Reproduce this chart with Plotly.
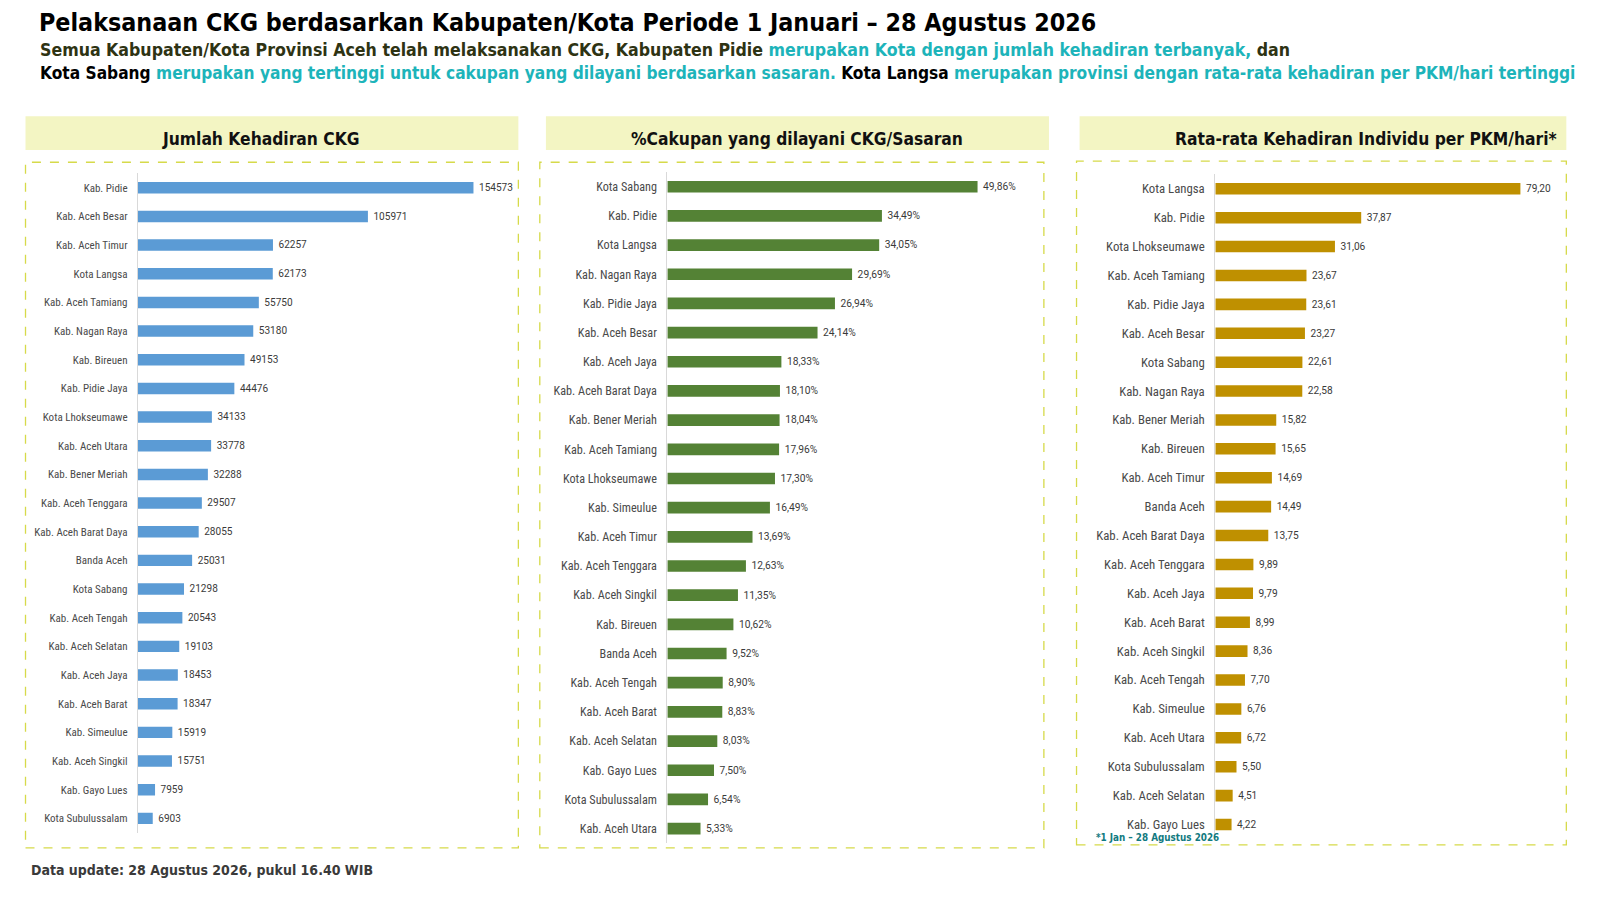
import plotly.graph_objects as go

# Panel 1: Jumlah Kehadiran CKG
kab_hadir = ['Kab. Pidie', 'Kab. Aceh Besar', 'Kab. Aceh Timur', 'Kota Langsa',
             'Kab. Aceh Tamiang', 'Kab. Nagan Raya', 'Kab. Bireuen', 'Kab. Pidie Jaya',
             'Kota Lhokseumawe', 'Kab. Aceh Utara', 'Kab. Bener Meriah',
             'Kab. Aceh Tenggara', 'Kab. Aceh Barat Daya', 'Banda Aceh', 'Kota Sabang',
             'Kab. Aceh Tengah', 'Kab. Aceh Selatan', 'Kab. Aceh Jaya', 'Kab. Aceh Barat',
             'Kab. Simeulue', 'Kab. Aceh Singkil', 'Kab. Gayo Lues', 'Kota Subulussalam']
jml_hadir = [154573, 105971, 62257, 62173, 55750, 53180, 49153, 44476, 34133, 33778,
             32288, 29507, 28055, 25031, 21298, 20543, 19103, 18453, 18347, 15919,
             15751, 7959, 6903]

# Panel 2: %Cakupan yang dilayani CKG/Sasaran
kab_cakupan = ['Kota Sabang', 'Kab. Pidie', 'Kota Langsa', 'Kab. Nagan Raya',
               'Kab. Pidie Jaya', 'Kab. Aceh Besar', 'Kab. Aceh Jaya',
               'Kab. Aceh Barat Daya', 'Kab. Bener Meriah', 'Kab. Aceh Tamiang',
               'Kota Lhokseumawe', 'Kab. Simeulue', 'Kab. Aceh Timur',
               'Kab. Aceh Tenggara', 'Kab. Aceh Singkil', 'Kab. Bireuen', 'Banda Aceh',
               'Kab. Aceh Tengah', 'Kab. Aceh Barat', 'Kab. Aceh Selatan',
               'Kab. Gayo Lues', 'Kota Subulussalam', 'Kab. Aceh Utara']
pct_cakupan = [49.86, 34.49, 34.05, 29.69, 26.94, 24.14, 18.33, 18.10, 18.04, 17.96,
               17.30, 16.49, 13.69, 12.63, 11.35, 10.62, 9.52, 8.90, 8.83, 8.03,
               7.50, 6.54, 5.33]

# Panel 3: Rata-rata Kehadiran Individu per PKM/hari
kab_rerata = ['Kota Langsa', 'Kab. Pidie', 'Kota Lhokseumawe', 'Kab. Aceh Tamiang',
              'Kab. Pidie Jaya', 'Kab. Aceh Besar', 'Kota Sabang', 'Kab. Nagan Raya',
              'Kab. Bener Meriah', 'Kab. Bireuen', 'Kab. Aceh Timur', 'Banda Aceh',
              'Kab. Aceh Barat Daya', 'Kab. Aceh Tenggara', 'Kab. Aceh Jaya',
              'Kab. Aceh Barat', 'Kab. Aceh Singkil', 'Kab. Aceh Tengah',
              'Kab. Simeulue', 'Kab. Aceh Utara', 'Kota Subulussalam',
              'Kab. Aceh Selatan', 'Kab. Gayo Lues']
rerata_pkm = [79.20, 37.87, 31.06, 23.67, 23.61, 23.27, 22.61, 22.58, 15.82, 15.65,
              14.69, 14.49, 13.75, 9.89, 9.79, 8.99, 8.36, 7.70, 6.76, 6.72, 5.50,
              4.51, 4.22]

W, H = 1600, 900
HEAD_FONT = 'DejaVu Sans Condensed, DejaVu Sans, sans-serif'
NARROW_FONT = 'Liberation Sans Narrow, Roboto Condensed, Liberation Sans, sans-serif'
LABEL_FONT = 'Roboto, Liberation Sans, sans-serif'
TEAL = '#1db4ba'
OLIVE = '#2e3313'


def _p(d):
    return d / 0.98 - 8


def px_x(x):
    return _p(x) / W


def px_y(y):
    return 1 - _p(y) / H


def _fmt(v, suffix=''):
    return f'{v:.2f}'.replace('.', ',') + suffix


fig = go.Figure()

panels = [
    # names, values, texts, color, bar start, bar end of max, right edge, first row, last row, tick size
    (kab_hadir, jml_hadir, [str(v) for v in jml_hadir], '#5b9bd5', 135, 464, 500, 184, 802, 11),
    (kab_cakupan, pct_cakupan, [_fmt(v, '%') for v in pct_cakupan], '#548235', 654, 958, 1015, 183, 812, 12.2),
    (kab_rerata, rerata_pkm, [_fmt(v) for v in rerata_pkm], '#bf9000', 1191, 1490, 1530, 185, 808, 12.8),
]

for i, (names, vals, texts, color, x0, xm, x1, r0, r1, tsize) in enumerate(panels):
    n = '' if i == 0 else str(i + 1)
    step = (r1 - r0) / (len(names) - 1)
    xmax = max(vals) * (x1 - x0) / (xm - x0)
    fig.add_trace(go.Bar(y=names, x=vals, orientation='h', text=texts,
                         texttemplate=' %{text}', textposition='outside',
                         cliponaxis=False,
                         textfont=dict(size=12.3, color='#3a3a3a', family=LABEL_FONT),
                         marker=dict(color=color, line=dict(width=0)),
                         xaxis='x' + n, yaxis='y' + n, showlegend=False,
                         hoverinfo='x+y'))
    fig.update_layout(**{
        'xaxis' + n: dict(domain=[px_x(x0), px_x(x1)], range=[0, xmax],
                          visible=False, fixedrange=True),
        'yaxis' + n: dict(domain=[px_y(r1 + step / 2), px_y(r0 - step / 2)],
                          anchor='x' + n, categoryorder='array', categoryarray=names,
                          autorange='reversed', showline=True, linecolor='#d9d9d9',
                          linewidth=1, ticks='', ticklabelstandoff=7,
                          tickfont=dict(size=tsize, color='#4a4a4a', family=NARROW_FONT),
                          showgrid=False, fixedrange=True),
    })

# header bands and dashed frames
headers = [
    ('Jumlah Kehadiran CKG', 25, 508, 256, 25, 508, 159, 831),
    ('%Cakupan yang dilayani CKG/Sasaran', 535, 1028, 781, 529, 1023, 159, 831),
    ('Rata-rata Kehadiran Individu per PKM/hari*', 1058, 1535, 1339, 1055, 1535, 158, 828),
]
shapes = []
annotations = []
for label, hx0, hx1, hcx, bx0, bx1, by0, by1 in headers:
    shapes.append(dict(type='rect', xref='paper', yref='paper', layer='below',
                       x0=px_x(hx0), x1=px_x(hx1), y0=px_y(147), y1=px_y(114),
                       fillcolor='#f3f5c3', line=dict(width=0)))
    shapes.append(dict(type='rect', xref='paper', yref='paper', layer='below',
                       x0=px_x(bx0), x1=px_x(bx1), y0=px_y(by1), y1=px_y(by0),
                       fillcolor='rgba(0,0,0,0)',
                       line=dict(color='#d6da4a', width=1.3, dash='dash')))
    annotations.append(dict(text=f'<b>{label}</b>', xref='paper', yref='paper',
                            x=px_x(hcx), y=px_y(136), xanchor='center', yanchor='middle',
                            showarrow=False,
                            font=dict(size=17.3, color='#111111', family=HEAD_FONT)))

# title and subtitle
annotations.append(dict(
    text='<b>Pelaksanaan CKG berdasarkan Kabupaten/Kota Periode 1 Januari \u2013 28 Agustus 2026</b>',
    xref='paper', yref='paper', x=px_x(36), y=px_y(22), xanchor='left', yanchor='middle',
    showarrow=False, font=dict(size=24.8, color='#000000', family=HEAD_FONT)))
annotations.append(dict(
    text=(f'<b><span style="color:{OLIVE}">Semua Kabupaten/Kota Provinsi Aceh telah melaksanakan CKG, '
          f'Kabupaten Pidie </span><span style="color:{TEAL}">merupakan Kota dengan jumlah kehadiran '
          f'terbanyak, </span><span style="color:{OLIVE}">dan</span></b>'),
    xref='paper', yref='paper', x=px_x(37), y=px_y(49), xanchor='left', yanchor='middle',
    showarrow=False, font=dict(size=17.6, family=HEAD_FONT)))
annotations.append(dict(
    text=(f'<b><span style="color:#000000">Kota Sabang </span><span style="color:{TEAL}">merupakan '
          f'yang tertinggi untuk cakupan yang dilayani berdasarkan sasaran. </span>'
          f'<span style="color:#000000">Kota Langsa </span><span style="color:{TEAL}">merupakan '
          f'provinsi dengan rata-rata kehadiran per PKM/hari tertinggi</span></b>'),
    xref='paper', yref='paper', x=px_x(37), y=px_y(72), xanchor='left', yanchor='middle',
    showarrow=False, font=dict(size=17.2, family=HEAD_FONT)))

# footnote and data update
annotations.append(dict(
    text='<b>*1 Jan \u2013 28 Agustus 2026</b>', xref='paper', yref='paper',
    x=px_x(1072), y=px_y(821), xanchor='left', yanchor='middle', showarrow=False,
    font=dict(size=9.8, color='#127a80', family=HEAD_FONT)))
annotations.append(dict(
    text='<b>Data update: 28 Agustus 2026, pukul 16.40 WIB</b>', xref='paper', yref='paper',
    x=px_x(28), y=px_y(853), xanchor='left', yanchor='middle', showarrow=False,
    font=dict(size=14, color='#3a3a3a', family=HEAD_FONT)))

fig.update_layout(width=W, height=H, margin=dict(l=0, r=0, t=0, b=0),
                  paper_bgcolor='white', plot_bgcolor='rgba(0,0,0,0)',
                  bargap=0.6, shapes=shapes, annotations=annotations)

fig.write_html('out.html')
